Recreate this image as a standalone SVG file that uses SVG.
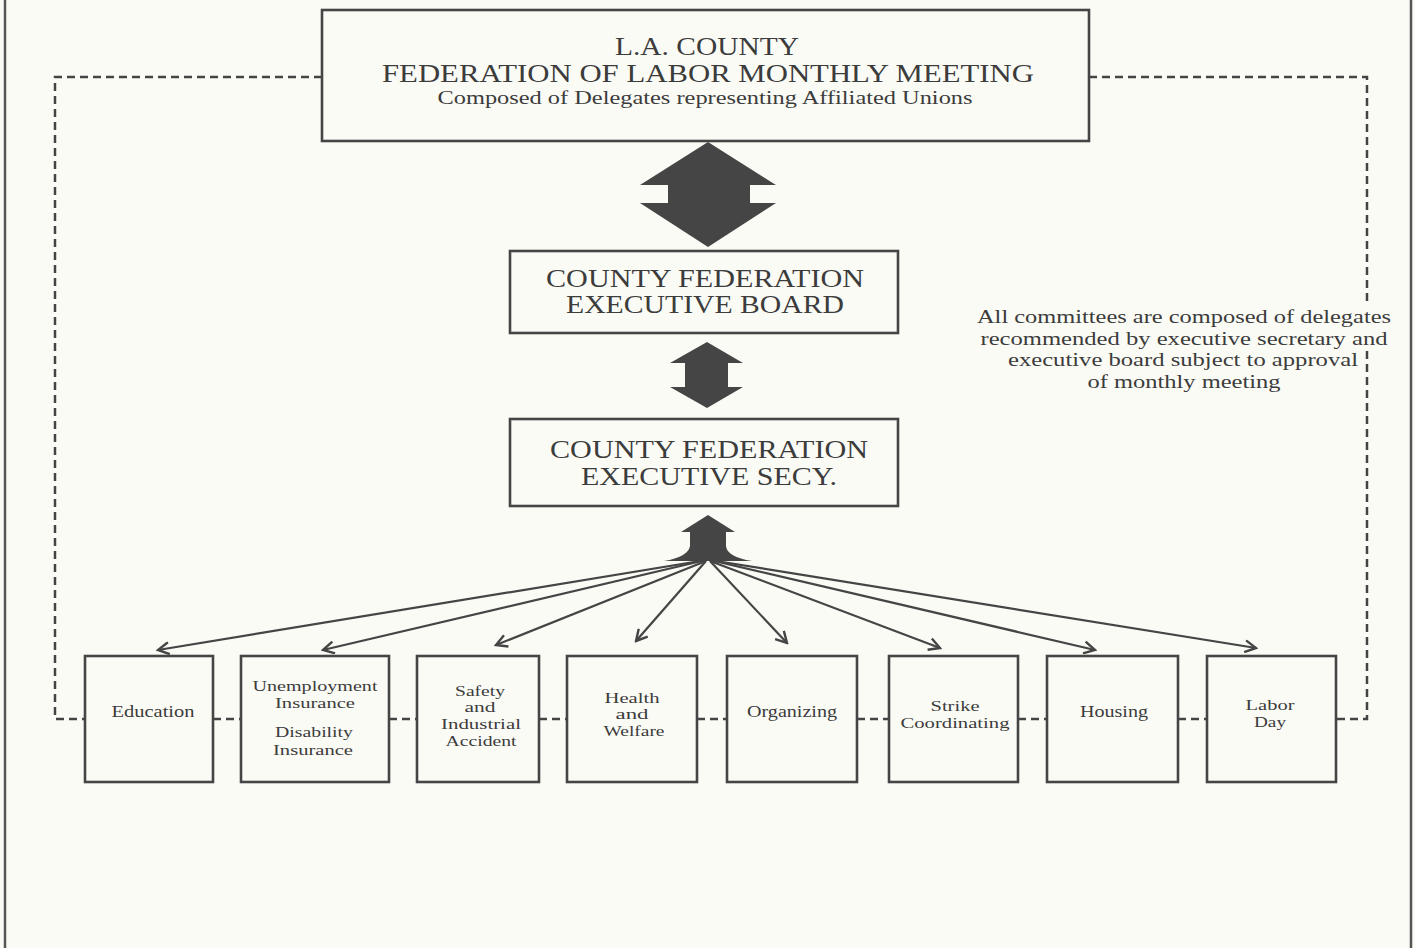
<svg xmlns="http://www.w3.org/2000/svg" width="1415" height="948" viewBox="0 0 1415 948">
<defs>
<style>
.bg{fill:#fbfbf6}
.box{fill:#fbfbf6;stroke:#454545;stroke-width:2.6}
.frame{stroke:#555;stroke-width:2.5}
.dash{fill:none;stroke:#444;stroke-width:2.5;stroke-dasharray:8 5}
.solid{fill:#454545}
.ln{fill:none;stroke:#454545;stroke-width:2.2;marker-end:url(#ah)}
text{font-family:"Liberation Serif","Times New Roman",serif;fill:#3c3c3c;text-anchor:middle}
.t1{font-size:25px}
.t2{font-size:18px}
.t3{font-size:25px}
.t4{font-size:19px}
.t5{font-size:16px}
.t6{font-size:15px}
</style>
<marker id="ah" viewBox="0 0 14 14" refX="12" refY="7" markerWidth="14" markerHeight="14" markerUnits="userSpaceOnUse" orient="auto">
<path d="M1,1 L12,7 L1,13" fill="none" stroke="#454545" stroke-width="2.4"/>
</marker>
</defs>
<rect class="bg" x="0" y="0" width="1415" height="948"/>
<line class="frame" x1="5" y1="0" x2="5" y2="948"/>
<line class="frame" x1="1411" y1="0" x2="1411" y2="948"/>

<g id="connectors">
<path class="dash" d="M322,77 H55 V719 H85"/>
<path class="dash" d="M1089,77 H1367 V303 M1367,351 V719 H1336"/>
<path class="dash" d="M213,719 H241 M389,719 H417 M539,719 H567 M697,719 H727 M857,719 H889 M1018,719 H1047 M1178,719 H1207"/>
<path class="solid" d="M708,142 L640,185 L668,185 L668,203 L640,203 L708,247 L776,203 L750,203 L750,185 L776,185 Z"/>
<path class="solid" d="M707,342 L670,363 L685,363 L685,387 L670,387 L707,408 L743,387 L728,387 L728,363 L743,363 Z"/>
<path class="solid" d="M708,515 L681,532 L690,532 L690,546 Q688,557 664,561 L752,561 Q727,557 726,546 L726,532 L735,532 Z"/>
<line class="ln" x1="706" y1="560" x2="158" y2="650"/>
<line class="ln" x1="706" y1="560" x2="323" y2="650"/>
<line class="ln" x1="706" y1="561" x2="496" y2="645"/>
<line class="ln" x1="706" y1="561" x2="636" y2="641"/>
<line class="ln" x1="710" y1="561" x2="787" y2="643"/>
<line class="ln" x1="710" y1="561" x2="940" y2="648"/>
<line class="ln" x1="710" y1="560" x2="1095" y2="650"/>
<line class="ln" x1="710" y1="560" x2="1256" y2="648"/>
</g>

<g id="monthly-meeting">
<rect class="box" x="322" y="10" width="767" height="131"/>
<text class="t1" x="707" y="55" textLength="184" lengthAdjust="spacingAndGlyphs">L.A. COUNTY</text>
<text class="t1" x="708" y="82" textLength="652" lengthAdjust="spacingAndGlyphs">FEDERATION OF LABOR MONTHLY MEETING</text>
<text class="t2" x="705" y="104" textLength="535" lengthAdjust="spacingAndGlyphs">Composed of Delegates representing Affiliated Unions</text>
</g>

<g id="executive-board">
<rect class="box" x="510" y="251" width="388" height="82"/>
<text class="t3" x="705" y="287" textLength="318" lengthAdjust="spacingAndGlyphs">COUNTY FEDERATION</text>
<text class="t3" x="705" y="313" textLength="278" lengthAdjust="spacingAndGlyphs">EXECUTIVE BOARD</text>
</g>

<g id="executive-secy">
<rect class="box" x="510" y="419" width="388" height="87"/>
<text class="t3" x="709" y="458" textLength="318" lengthAdjust="spacingAndGlyphs">COUNTY FEDERATION</text>
<text class="t3" x="709" y="485" textLength="256" lengthAdjust="spacingAndGlyphs">EXECUTIVE SECY.</text>
</g>

<g id="note">
<text class="t4" x="1184" y="323" textLength="414" lengthAdjust="spacingAndGlyphs">All committees are composed of delegates</text>
<text class="t4" x="1184" y="345" textLength="407" lengthAdjust="spacingAndGlyphs">recommended by executive secretary and</text>
<text class="t4" x="1183" y="366" textLength="350" lengthAdjust="spacingAndGlyphs">executive board subject to approval</text>
<text class="t4" x="1184" y="388" textLength="193" lengthAdjust="spacingAndGlyphs">of monthly meeting</text>
</g>

<g id="education">
<rect class="box" x="85" y="656" width="128" height="126"/>
<text class="t5" x="153" y="717" textLength="83" lengthAdjust="spacingAndGlyphs">Education</text>
</g>
<g id="unemployment">
<rect class="box" x="241" y="656" width="148" height="126"/>
<text class="t6" x="315" y="691" textLength="125" lengthAdjust="spacingAndGlyphs">Unemployment</text>
<text class="t6" x="315" y="708" textLength="80" lengthAdjust="spacingAndGlyphs">Insurance</text>
<text class="t6" x="314" y="737" textLength="78" lengthAdjust="spacingAndGlyphs">Disability</text>
<text class="t6" x="313" y="755" textLength="80" lengthAdjust="spacingAndGlyphs">Insurance</text>
</g>
<g id="safety">
<rect class="box" x="417" y="656" width="122" height="126"/>
<text class="t6" x="480" y="696" textLength="50" lengthAdjust="spacingAndGlyphs">Safety</text>
<text class="t6" x="480" y="712" textLength="31" lengthAdjust="spacingAndGlyphs">and</text>
<text class="t6" x="481" y="729" textLength="80" lengthAdjust="spacingAndGlyphs">Industrial</text>
<text class="t6" x="481" y="746" textLength="71" lengthAdjust="spacingAndGlyphs">Accident</text>
</g>
<g id="health">
<rect class="box" x="567" y="656" width="130" height="126"/>
<text class="t6" x="632" y="703" textLength="55" lengthAdjust="spacingAndGlyphs">Health</text>
<text class="t6" x="632" y="719" textLength="33" lengthAdjust="spacingAndGlyphs">and</text>
<text class="t6" x="634" y="736" textLength="61" lengthAdjust="spacingAndGlyphs">Welfare</text>
</g>
<g id="organizing">
<rect class="box" x="727" y="656" width="130" height="126"/>
<text class="t5" x="792" y="717" textLength="90" lengthAdjust="spacingAndGlyphs">Organizing</text>
</g>
<g id="strike">
<rect class="box" x="889" y="656" width="129" height="126"/>
<text class="t6" x="955" y="711" textLength="49" lengthAdjust="spacingAndGlyphs">Strike</text>
<text class="t6" x="955" y="728" textLength="109" lengthAdjust="spacingAndGlyphs">Coordinating</text>
</g>
<g id="housing">
<rect class="box" x="1047" y="656" width="131" height="126"/>
<text class="t5" x="1114" y="717" textLength="68" lengthAdjust="spacingAndGlyphs">Housing</text>
</g>
<g id="labor-day">
<rect class="box" x="1207" y="656" width="129" height="126"/>
<text class="t6" x="1270" y="710" textLength="49" lengthAdjust="spacingAndGlyphs">Labor</text>
<text class="t6" x="1270" y="727" textLength="32" lengthAdjust="spacingAndGlyphs">Day</text>
</g>
</svg>
